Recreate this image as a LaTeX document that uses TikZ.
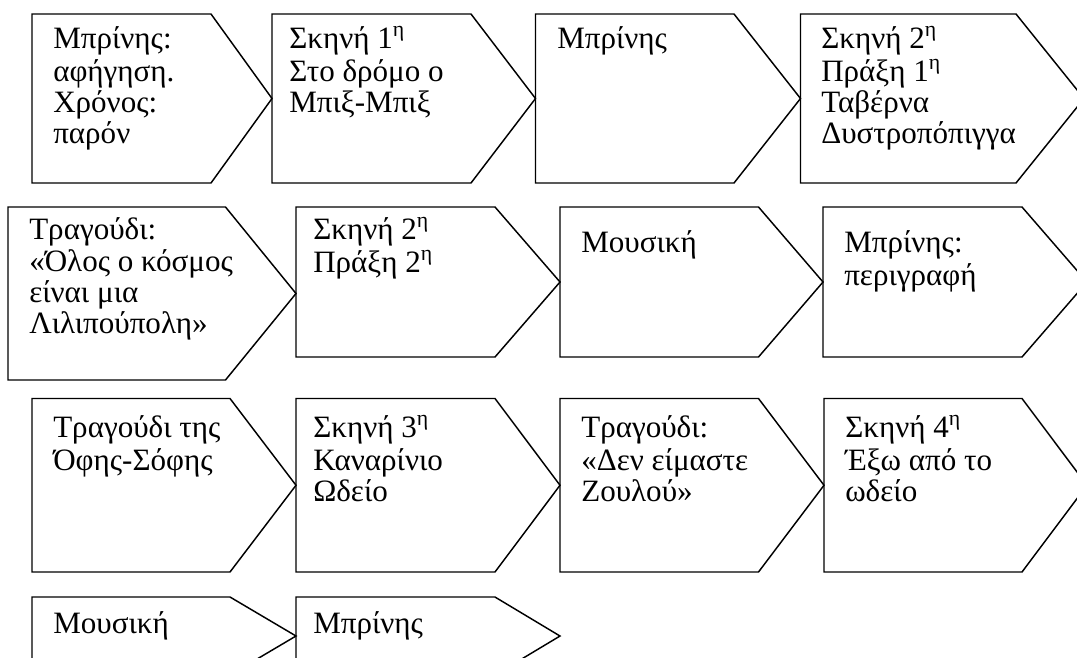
\documentclass[tikz,border=0pt]{standalone}
\usepackage{fontspec}
\setmainfont{Liberation Serif}
\tikzset{
  plate/.style={draw=black, line width=1.1pt, line join=miter},
  txt/.style={anchor=north west, align=left, inner sep=0pt, font=\fontsize{23.3}{23.3}\selectfont},
}
% name, left, top, shoulder, tip, bottom, text x, text y, text
\newcommand{\hplate}[9]{%
  \draw[plate] (#2,#3) -- (#4,#3) -- (#5,{(#3+#6)/2}) -- (#4,#6) -- (#2,#6) -- cycle;
  \node[txt] (#1) at (#7,#8) {\strut #9};
}
\begin{document}
\begin{tikzpicture}[x=0.75pt,y=-0.75pt]
\useasboundingbox (0,0) rectangle (1077,657);
\fill[white] (0,0) rectangle (1077,657);
\clip (0,0) rectangle (1077,657);
% row 1
\hplate{a1}{32}{14}{211}{272}{183}{53}{26.3}{Μπρίνης:\\αφήγηση.\\Χρόνος:\\παρόν}
\hplate{a2}{272}{14}{471}{535.5}{183}{289}{26.3}{Σκηνή 1\textsuperscript{η}\\Στο δρόμο ο\\Μπιξ-Μπιξ}
\hplate{a3}{535.5}{14}{734}{800.5}{183}{557}{26.3}{Μπρίνης}
\hplate{a4}{800.5}{14}{1016}{1084}{183}{821}{26.3}{Σκηνή 2\textsuperscript{η}\\Πράξη 1\textsuperscript{η}\\Ταβέρνα\\Δυστροπόπιγγα}
% row 2
\hplate{b1}{8}{207}{225.5}{296}{380}{29}{217}{Τραγούδι:\\«Όλος ο κόσμος\\είναι μια\\Λιλιπούπολη»}
\hplate{b2}{296}{207}{495}{560}{357}{313}{217}{Σκηνή 2\textsuperscript{η}\\Πράξη 2\textsuperscript{η}}
\hplate{b3}{560}{207}{758.5}{823}{357}{581}{230.5}{Μουσική}
\hplate{b4}{823}{207}{1022}{1087}{357}{844}{230.5}{Μπρίνης:\\περιγραφή}
% row 3
\hplate{c1}{32}{398.5}{230}{296}{572}{53}{415.3}{Τραγούδι της\\Όφης-Σόφης}
\hplate{c2}{296}{398.5}{495}{560}{572}{313}{415.3}{Σκηνή 3\textsuperscript{η}\\Καναρίνιο\\Ωδείο}
\hplate{c3}{560}{398.5}{758.5}{824}{572}{581}{415.3}{Τραγούδι:\\«Δεν είμαστε\\Ζουλού»}
\hplate{c4}{824}{398.5}{1022}{1087}{572}{845}{415.3}{Σκηνή 4\textsuperscript{η}\\Έξω από το\\ωδείο}
% row 4
\hplate{d1}{32}{597}{230}{296}{675}{53}{611.3}{Μουσική}
\hplate{d2}{296}{597}{495}{560}{675}{313}{611.3}{Μπρίνης}
\end{tikzpicture}
\end{document}
